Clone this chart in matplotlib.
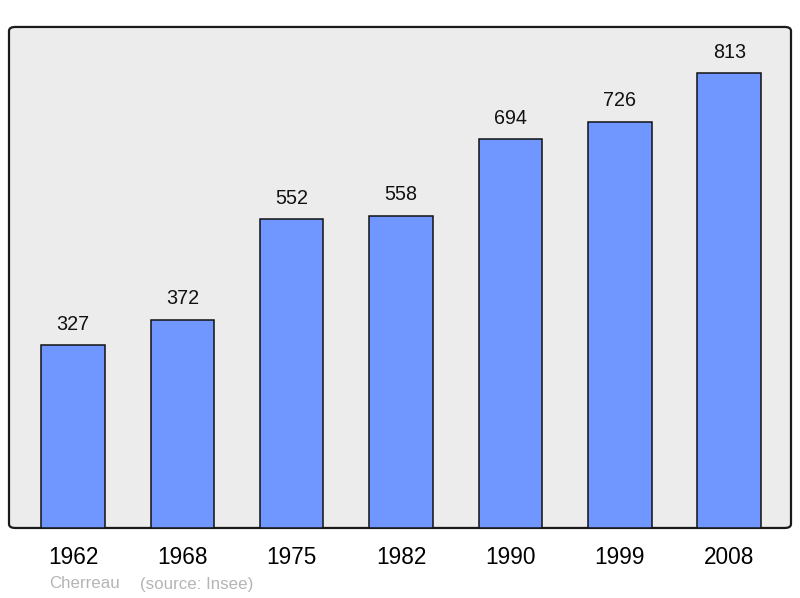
import matplotlib.pyplot as plt
from matplotlib.patches import FancyBboxPatch

plt.rcParams['font.family'] = ['Liberation Sans', 'DejaVu Sans']

annees = ["1962", "1968", "1975", "1982", "1990", "1999", "2008"]
population = [327, 372, 552, 558, 694, 726, 813]

fig = plt.figure(figsize=(8, 5.98), dpi=100)
ax = fig.add_axes([0.01125, 0.1171, 0.9775, 0.8378])
ax.set_facecolor('none')

# fond gris avec coins arrondis
fond = FancyBboxPatch((0, 0), 1, 1, boxstyle="round,pad=0,rounding_size=0.008",
                      transform=ax.transAxes, facecolor='#ececec',
                      edgecolor='#1a1a1a', linewidth=1.6, clip_on=False, zorder=0)
ax.add_patch(fond)

x = range(len(annees))
barres = ax.bar(x, population, width=0.58, color='#7097ff',
                edgecolor='#111111', linewidth=1.1, zorder=2)

for xi, v in zip(x, population):
    ax.annotate(str(v), (xi, v), xytext=(0, 11), textcoords='offset points',
                ha='center', va='baseline', fontsize=14.2, color='#111111')

ax.set_xlim(-0.585, 6.565)
ax.set_ylim(0, 895)
ax.set_xticks(list(x))
ax.set_xticklabels(annees, fontsize=16.3)
ax.tick_params(axis='x', length=0, pad=13.2)
ax.set_yticks([])
for s in ax.spines.values():
    s.set_visible(False)

fig.text(49 / 800, 1 - 584 / 598, "Cherreau", color='#b5b5b5', fontsize=12.2,
         va='center', ha='left')
fig.text(140 / 800, 1 - 584 / 598, "(source: Insee)", color='#b5b5b5',
         fontsize=12.2, va='center', ha='left')

fig.savefig('out.png', dpi=100)
